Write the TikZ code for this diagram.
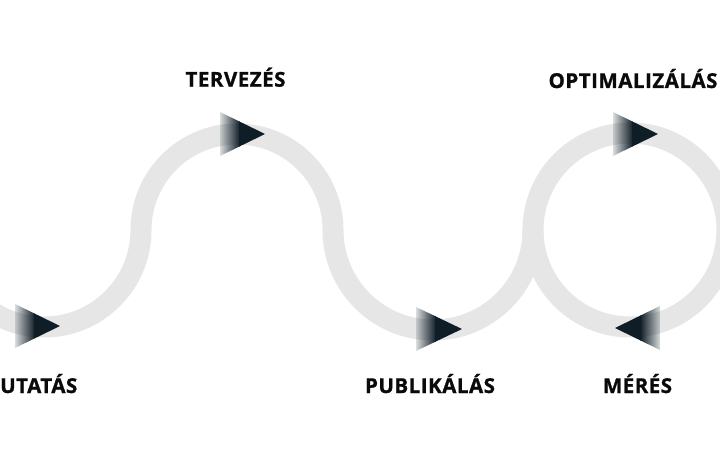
\documentclass[tikz,border=0pt]{standalone}
\usepackage{fontspec}
\setmainfont{Open Sans}
\usetikzlibrary{fadings}
\definecolor{track}{HTML}{E6E6E6}
\definecolor{arrowc}{HTML}{0F1D27}
\definecolor{labelc}{HTML}{0A0A0A}
\tikzfading[name=lfade, left color=transparent!85, right color=transparent!0]
% #1 base x, #2 tip x, #3 centre y, #4 direction (+1 right, -1 left)
\newcommand\fadearrow[4]{%
  \begin{scope}
    \clip (#1,{#3-22}) -- (#2,#3) -- (#1,{#3+22}) -- cycle;
    \fill[arrowc] ({#1+#4*19},{#3-23}) rectangle ({#2+#4*1},{#3+23});
    \fill[arrowc, path fading=lfade, fading angle={90-90*#4}] (#1,{#3-23}) rectangle ({#1+#4*20},{#3+23});
  \end{scope}}
\begin{document}
\begin{tikzpicture}[x=1bp,y=-1bp,
  lbl/.style={font=\fontsize{20.5bp}{22bp}\selectfont\bfseries\addfontfeatures{LetterSpace=2.5,FakeBold=1}, text=labelc, inner sep=0, anchor=base},
  trk/.style={draw=track, line width=21bp}]
\useasboundingbox (0,0) rectangle (720,471);
\clip (0,0) rectangle (720,471);
\fill[white] (0,0) rectangle (720,471);
% track
\draw[trk] (-53,230) arc[start angle=180,end angle=0,radius=97]
  arc[start angle=180,end angle=360,radius=96]
  arc[start angle=180,end angle=0,radius=100];
\draw[trk] (630,230) circle[radius=97];
% arrowheads
\fadearrow{15}{60}{326}{1}
\fadearrow{220}{265}{134}{1}
\fadearrow{416}{462}{329}{1}
\fadearrow{613}{658}{134}{1}
\fadearrow{660}{615}{328}{-1}
% labels
\node[lbl, anchor=base west] (kut) at (0,393) {UTATÁS};
\node[lbl] (terv) at (235.5,86.7) {TERVEZÉS};
\node[lbl] (publ) at (430,393) {PUBLIKÁLÁS};
\node[lbl] (opt) at (633,88) {OPTIMALIZÁLÁS};
\node[lbl] (meres) at (637.5,393) {MÉRÉS};
\end{tikzpicture}
\end{document}
